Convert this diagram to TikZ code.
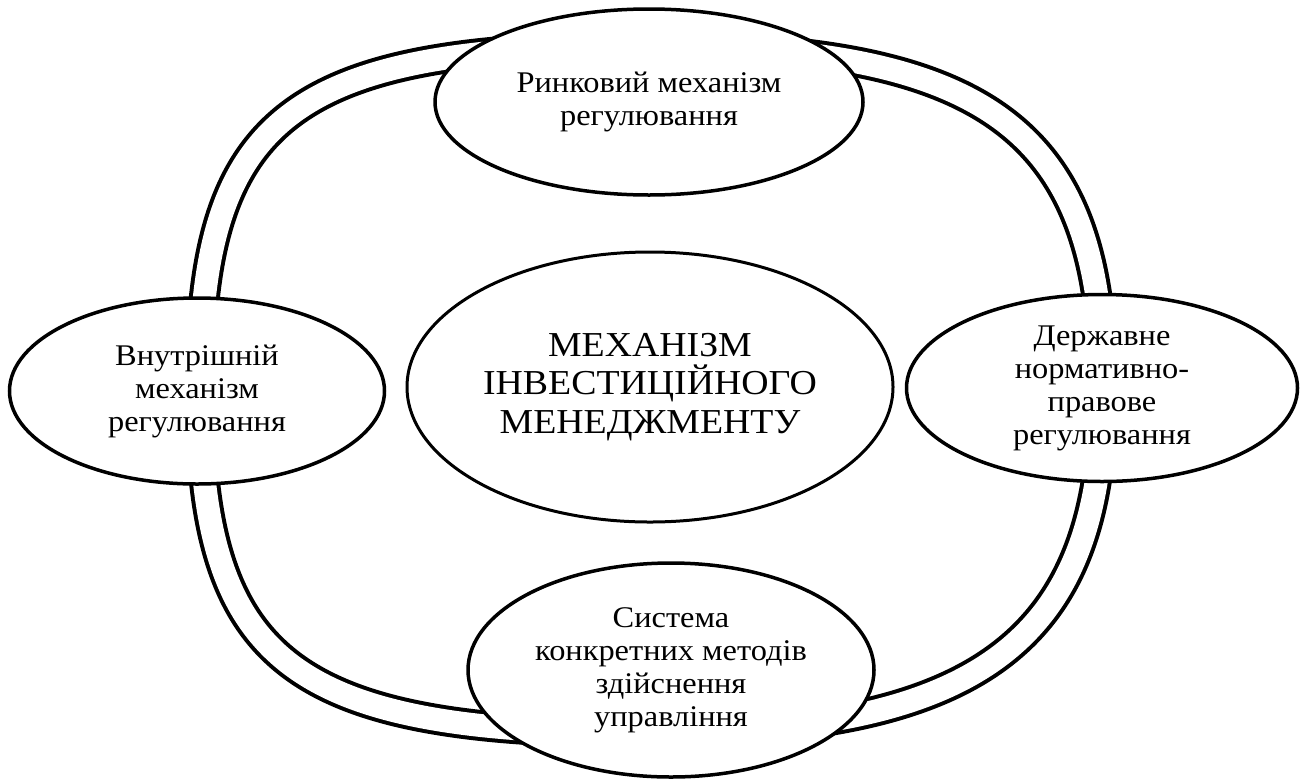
\documentclass[tikz,border=0pt]{standalone}
\usepackage{fontspec}
\setmainfont{Liberation Serif}[FakeStretch=1.08]
\usetikzlibrary{shapes.geometric}
\begin{document}
\begin{tikzpicture}[x=1pt,y=-1pt,
  ring/.style={line width=4pt, double=white, double distance=23pt},
  unit/.style={ellipse, draw, line width=3.5pt, fill=white, inner sep=0pt,
    align=center, font=\fontsize{30}{33}\selectfont},
  core/.style={unit, line width=3pt, font=\fontsize{35}{38.5}\selectfont}]
\useasboundingbox (0,0) rectangle (1306,780);

% double-lined closed loop linking the regulating units (centre line of the band)
\coordinate (loopT) at (650,46);
\coordinate (loopR) at (1103,389);
\coordinate (loopB) at (650,733);
\coordinate (loopL) at (200,389);
\draw[ring] (loopT)
  .. controls (990,46) and (1103,132) .. (loopR)
  .. controls (1103,640) and (981,733) .. (loopB)
  .. controls (290,733) and (200,664) .. (loopL)
  .. controls (200,115) and (290,46) .. (loopT) -- cycle;

\node[unit, minimum width=428pt, minimum height=186pt] (market) at (649,102)
  {Ринковий механізм\\регулювання};
\node[unit, minimum width=375pt, minimum height=186pt] (internal) at (197,391)
  {Внутрішній\\механізм\\регулювання};
\node[unit, minimum width=391pt, minimum height=187pt] (state) at (1102,388)
  {Державне\\нормативно-\\правове\\регулювання};
\node[unit, minimum width=406pt, minimum height=214pt] (methods) at (671,670)
  {Система\\конкретних методів\\здійснення\\управління};
\node[core, minimum width=486pt, minimum height=270pt] (core) at (650,387)
  {МЕХАНІЗМ\\ІНВЕСТИЦІЙНОГО\\МЕНЕДЖМЕНТУ};
\end{tikzpicture}
\end{document}
